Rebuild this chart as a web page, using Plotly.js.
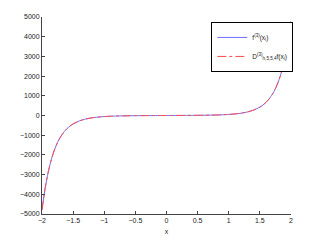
<!DOCTYPE html>
<html>
<head>
<meta charset="utf-8">
<script src="https://cdn.plot.ly/plotly-3.0.1.min.js"></script>
<style>html,body{margin:0;padding:0;background:#fff}#chart{width:321px;height:242px}</style>
</head>
<body>
<div id="chart"></div>
<script>
const xVals = [-2,-1.95,-1.9,-1.85,-1.8,-1.75,-1.7,-1.65,-1.6,-1.55,-1.5,-1.4,-1.3,-1.2,-1.1,-1,-0.9,-0.8,-0.7,-0.6,-0.5,-0.4,-0.3,-0.2,-0.1,0,0.1,0.2,0.3,0.4,0.5,0.6,0.7,0.8,0.9,1,1.1,1.2,1.3,1.4,1.5,1.55,1.6,1.65,1.7,1.75,1.8,1.85,1.9,1.95,2];
const exactVals = [-4805,-3708,-2871,-2233,-1743,-1366,-1074,-848,-672,-535,-427,-275,-180,-119,-80,-54.4,-37.4,-26,-18.2,-12.8,-9,-6.2,-4.2,-2.6,-1.2,0,1.2,2.6,4.2,6.2,9,12.8,18.2,26,37.4,54.4,80,119,180,275,427,535,672,848,1074,1366,1743,2233,2871,3708,4805];
const approxVals = [-4790,-3705,-2870,-2232,-1742,-1365,-1074,-848,-672,-535,-427,-275,-180,-119,-80,-54.4,-37.4,-26,-18.2,-12.8,-9,-6.2,-4.2,-2.6,-1.2,0,1.2,2.6,4.2,6.2,9,12.8,18.2,26,37.4,54.4,80,119,180,275,427,535,672,848,1074,1366,1743,2233,2871,3705,4790];
const legendNames = ['f<sup>(3)</sup>(x<sub>i</sub>)', 'D<sup>(3)</sup><sub>h,5,5,4</sub>f(x<sub>i</sub>)'];

const axisColor = '#444';
const font = {family: 'Liberation Sans, Arial, sans-serif', size: 7, color: '#222'};

Plotly.newPlot('chart', [
  {x: xVals, y: exactVals, type: 'scatter', mode: 'lines', name: legendNames[0],
   line: {color: '#6f6fff', width: 1, shape: 'spline', smoothing: 0.6}},
  {x: xVals, y: approxVals, type: 'scatter', mode: 'lines', name: legendNames[1],
   line: {color: '#ff4a4a', width: 1, dash: 'dashdot', shape: 'spline', smoothing: 0.6}}
], {
  width: 321, height: 242,
  margin: {l: 42, r: 30, t: 17, b: 28},
  paper_bgcolor: '#fff', plot_bgcolor: '#fff',
  font: font,
  showlegend: true,
  legend: {x: 0.68, y: 0.975, xanchor: 'left', yanchor: 'top',
           bordercolor: '#000', borderwidth: 1, bgcolor: '#fff',
           itemwidth: 30, tracegroupgap: 0,
           font: {family: font.family, size: 6.5, color: '#222'}},
  xaxis: {range: [-2, 2], dtick: 0.5, tick0: -2, ticks: 'inside', ticklen: 3,
          tickcolor: axisColor, showline: true, linecolor: axisColor, linewidth: 1,
          showgrid: false, zeroline: false, tickfont: font,
          title: {text: 'x', font: font, standoff: 5}},
  yaxis: {range: [-5000, 5000], dtick: 1000, ticks: 'inside', ticklen: 3,
          tickcolor: axisColor, showline: true, linecolor: axisColor, linewidth: 1,
          showgrid: false, zeroline: false, tickfont: font, tickformat: 'd'}
}, {displayModeBar: false, staticPlot: true});
</script>
</body>
</html>
